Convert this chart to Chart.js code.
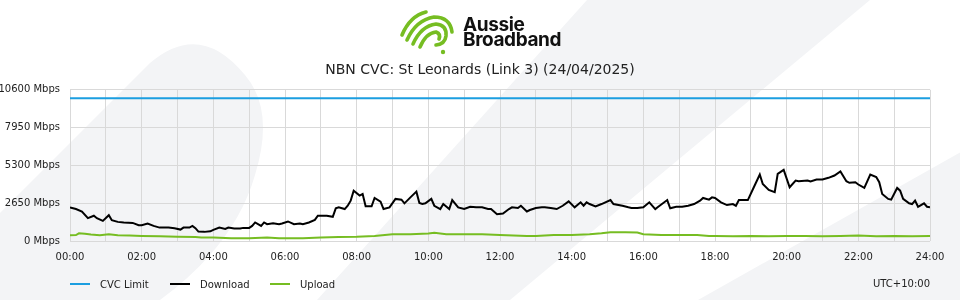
<!DOCTYPE html>
<html>
<head>
<meta charset="utf-8">
<script src="https://cdn.jsdelivr.net/npm/chart.js@4.4.0/dist/chart.umd.min.js"></script>
<style>
  html, body { margin: 0; padding: 0; }
  body { width: 960px; height: 300px; position: relative; overflow: hidden; background: #ffffff; font-family: "DejaVu Sans", sans-serif; }
  #bg { position: absolute; left: 0; top: 0; }
  #chartWrap { position: absolute; left: 0; top: 0; width: 960px; height: 300px; }
  #logo { position: absolute; left: 398px; top: 8px; }
  .brand { position: absolute; left: 463px; font-family: Inter, "Liberation Sans", sans-serif; font-weight: 700; font-size: 19px; line-height: 17px; letter-spacing: -0.4px; color: #111; }
  #brand1 { top: 16px; }
  #brand2 { top: 31px; }
  #legend { position: absolute; left: 70px; top: 277px; height: 14px; display: flex; font-size: 10px; color: #222; }
  .item { width: 100px; display: flex; align-items: center; }
  .swatch { width: 20px; height: 2px; margin-right: 10px; }
  #tz { position: absolute; right: 30px; top: 277px; font-size: 10px; line-height: 14px; color: #222; }
</style>
</head>
<body>
<svg id="bg" width="960" height="300">
  <path d="M0 300 L0 213 L150 63 Q200 20 245 75 Q275 110 255 175 Q235 245 160 300 Z" fill="#f3f4f6"/>
  <path d="M317 300 L587 0 L870 0 L510 300 Z" fill="#f3f4f6"/>
  <path d="M698 300 L1000 130 L1000 300 Z" fill="#f3f4f6"/>
</svg>
<div id="chartWrap"><canvas id="cvcChart" width="960" height="300"></canvas></div>
<svg id="logo" width="62" height="50" fill="none" stroke="#76bd22" stroke-width="3.6" stroke-linecap="round">
  <path d="M4 27 Q12 8 28 4"/>
  <path d="M9 32 Q18 12 36 9 Q52 9 54 24"/>
  <path d="M15 36 Q23 18 38 16 Q49 17 48 28 Q47 36 38 37"/>
  <path d="M22 39 Q28 25 38 24 Q43 26 41 31"/>
  <circle cx="45" cy="44" r="2.2" fill="#76bd22" stroke="none"/>
</svg>
<div class="brand" id="brand1">Aussie</div>
<div class="brand" id="brand2">Broadband</div>
<div id="legend"></div>
<div id="tz">UTC+10:00</div>

<script>
// NBN CVC - St Leonards (Link 3), 24/04/2025

const chartTitle = 'NBN CVC: St Leonards (Link 3) (24/04/2025)';
const seriesNames = ['CVC Limit', 'Download', 'Upload'];
const seriesColors = ['#1b9ee0', '#000000', '#76bd22'];

const yTicks = [0, 2650, 5300, 7950, 10600];
const cvcLimit = [['00:00', 10000], ['24:00', 10000]];

// [hora, Mbps]
const download = [
    ['00:00', 2350], ['00:10', 2240], ['00:20', 2070], ['00:30', 1600], ['00:40', 1770],
    ['00:45', 1600], ['00:55', 1410], ['01:05', 1810], ['01:10', 1460], ['01:20', 1340],
    ['01:30', 1300], ['01:45', 1270], ['01:55', 1110], ['02:00', 1110], ['02:10', 1230],
    ['02:20', 1060], ['02:30', 940], ['02:45', 940], ['02:55', 900], ['03:05', 800],
    ['03:10', 940], ['03:20', 940], ['03:25', 1060], ['03:30', 900], ['03:35', 660],
    ['03:45', 640], ['03:55', 680], ['04:00', 780], ['04:10', 940], ['04:20', 850],
    ['04:25', 940], ['04:35', 870], ['04:45', 870], ['04:50', 920], ['05:00', 920],
    ['05:05', 1060], ['05:10', 1300], ['05:20', 1060], ['05:25', 1300], ['05:30', 1180],
    ['05:40', 1250], ['05:50', 1180], ['05:55', 1230], ['06:05', 1370], ['06:15', 1180],
    ['06:25', 1230], ['06:30', 1180], ['06:40', 1300], ['06:50', 1480], ['06:55', 1770],
    ['07:10', 1770], ['07:20', 1700], ['07:25', 2290], ['07:30', 2360], ['07:40', 2240],
    ['07:45', 2470], ['07:50', 2830], ['07:55', 3530], ['08:05', 3180], ['08:10', 3300],
    ['08:15', 2430], ['08:25', 2430], ['08:30', 3020], ['08:40', 2760], ['08:45', 2240],
    ['08:55', 2360], ['09:05', 2950], ['09:15', 2900], ['09:20', 2640], ['09:30', 3060],
    ['09:40', 3460], ['09:45', 2660], ['09:50', 2590], ['09:55', 2640], ['10:05', 2950],
    ['10:10', 2470], ['10:20', 2240], ['10:25', 2590], ['10:35', 2240], ['10:40', 2870],
    ['10:50', 2360], ['11:00', 2240], ['11:10', 2400], ['11:20', 2360], ['11:30', 2360],
    ['11:40', 2240], ['11:45', 2240], ['11:55', 1880], ['12:05', 1930], ['12:15', 2240],
    ['12:20', 2360], ['12:30', 2310], ['12:35', 2470], ['12:45', 2070], ['12:50', 2170],
    ['13:00', 2310], ['13:10', 2360], ['13:15', 2360], ['13:25', 2310], ['13:35', 2240],
    ['13:45', 2470], ['13:55', 2780], ['14:05', 2360], ['14:15', 2710], ['14:20', 2470],
    ['14:25', 2710], ['14:30', 2590], ['14:40', 2430], ['14:50', 2590], ['15:05', 2870],
    ['15:10', 2590], ['15:25', 2470], ['15:35', 2360], ['15:40', 2310], ['15:50', 2310],
    ['16:00', 2360], ['16:10', 2710], ['16:20', 2240], ['16:25', 2400], ['16:40', 2870],
    ['16:45', 2290], ['16:55', 2400], ['17:05', 2400], ['17:15', 2470], ['17:25', 2590],
    ['17:35', 2830], ['17:40', 3020], ['17:50', 2900], ['17:55', 3060], ['18:00', 3020],
    ['18:10', 2710], ['18:20', 2520], ['18:30', 2590], ['18:35', 2470], ['18:40', 2870],
    ['18:45', 2870], ['18:55', 2870], ['19:05', 3770], ['19:15', 4660], ['19:20', 4000],
    ['19:30', 3580], ['19:40', 3420], ['19:45', 4710], ['19:55', 4990], ['20:05', 3770],
    ['20:15', 4240], ['20:20', 4190], ['20:35', 4240], ['20:40', 4170], ['20:50', 4310],
    ['21:00', 4310], ['21:10', 4430], ['21:20', 4590], ['21:30', 4880], ['21:40', 4190],
    ['21:45', 4080], ['21:55', 4120], ['22:00', 3960], ['22:10', 3720], ['22:20', 4660],
    ['22:30', 4480], ['22:35', 4120], ['22:40', 3300], ['22:50', 2950], ['22:55', 2900],
    ['23:05', 3720], ['23:10', 3530], ['23:15', 2950], ['23:25', 2640], ['23:30', 2590],
    ['23:35', 2830], ['23:40', 2400], ['23:50', 2640], ['23:55', 2400], ['24:00', 2360]
];

const upload = [
    ['00:00', 400], ['00:10', 420], ['00:15', 540], ['00:25', 500], ['00:35', 450],
    ['00:50', 400], ['01:05', 470], ['01:20', 400], ['01:40', 380], ['02:00', 350],
    ['02:30', 330], ['03:00', 300], ['03:30', 280], ['03:40', 240], ['04:00', 240],
    ['04:30', 190], ['05:00', 200], ['05:30', 240], ['05:50', 190], ['06:00', 190],
    ['06:30', 190], ['07:00', 240], ['07:30', 280], ['08:00', 300], ['08:30', 350],
    ['09:00', 470], ['09:30', 470], ['10:00', 520], ['10:10', 570], ['10:30', 470],
    ['11:00', 470], ['11:30', 470], ['12:00', 420], ['12:45', 350], ['13:00', 350],
    ['13:30', 420], ['14:00', 420], ['14:30', 470], ['14:50', 540], ['15:05', 620],
    ['15:30', 620], ['15:50', 600], ['16:00', 470], ['16:30', 420], ['17:00', 420],
    ['17:30', 420], ['17:50', 350], ['18:00', 350], ['18:30', 330], ['19:00', 350],
    ['19:30', 330], ['20:00', 350], ['20:30', 350], ['21:00', 330], ['21:30', 350],
    ['22:00', 380], ['22:30', 330], ['23:00', 350], ['23:30', 330], ['24:00', 350]
];

function toMinutes(hhmm) {
    const parts = hhmm.split(':');
    return parseInt(parts[0], 10) * 60 + parseInt(parts[1], 10);
}

function toPoints(series) {
    return series.map(p => ({ x: toMinutes(p[0]), y: p[1] }));
}

function formatHour(minutes) {
    const h = Math.round(minutes / 60);
    return (h < 10 ? '0' : '') + h + ':00';
}

const allSeries = [cvcLimit, download, upload];

const datasets = allSeries.map((series, i) => ({
    label: seriesNames[i],
    data: toPoints(series),
    borderColor: seriesColors[i],
    backgroundColor: seriesColors[i],
    borderWidth: 2,
    pointRadius: 0,
    tension: 0,
    fill: false
}));

Chart.defaults.font.family = '"DejaVu Sans", sans-serif';
Chart.defaults.font.size = 10;
Chart.defaults.color = '#222';

const ctx = document.getElementById('cvcChart').getContext('2d');
const chart = new Chart(ctx, {
    type: 'line',
    data: { datasets: datasets },
    options: {
        responsive: false,
        animation: false,
        layout: { padding: { top: 62, right: 0, bottom: 27, left: 0 } },
        plugins: {
            legend: { display: false },
            tooltip: { enabled: false },
            title: {
                display: true,
                text: chartTitle,
                color: '#222',
                font: { size: 14, weight: 'normal' },
                padding: { top: 0, bottom: 11 }
            }
        },
        scales: {
            x: {
                type: 'linear',
                min: 0,
                max: 1440,
                grid: { color: '#d9d9d9', drawTicks: false },
                border: { display: false },
                ticks: {
                    stepSize: 60,
                    autoSkip: false,
                    maxRotation: 0,
                    padding: 10,
                    callback: v => (v % 120 === 0 ? formatHour(v) : '')
                }
            },
            y: {
                min: yTicks[0],
                max: yTicks[yTicks.length - 1],
                afterBuildTicks: scale => {
                    scale.ticks = yTicks.map(v => ({ value: v }));
                },
                afterFit: scale => { scale.width = 70; },
                grid: { color: '#d9d9d9', drawTicks: false },
                border: { display: false },
                ticks: {
                    padding: 10,
                    callback: v => v + ' Mbps'
                }
            },
            // eje vacío a la derecha: deja el margen derecho sin descentrar el título
            margen: {
                position: 'right',
                grid: { display: false, drawTicks: false },
                border: { display: false },
                ticks: { display: false },
                afterFit: scale => { scale.width = 30; }
            }
        }
    }
});

// leyenda en HTML con ancho fijo por elemento
const legendEl = document.getElementById('legend');
chart.data.datasets.forEach(ds => {
    const item = document.createElement('div');
    item.className = 'item';
    item.innerHTML = `<span class="swatch" style="background:${ds.borderColor}"></span><span>${ds.label}</span>`;
    legendEl.appendChild(item);
});
</script>
</body>
</html>
